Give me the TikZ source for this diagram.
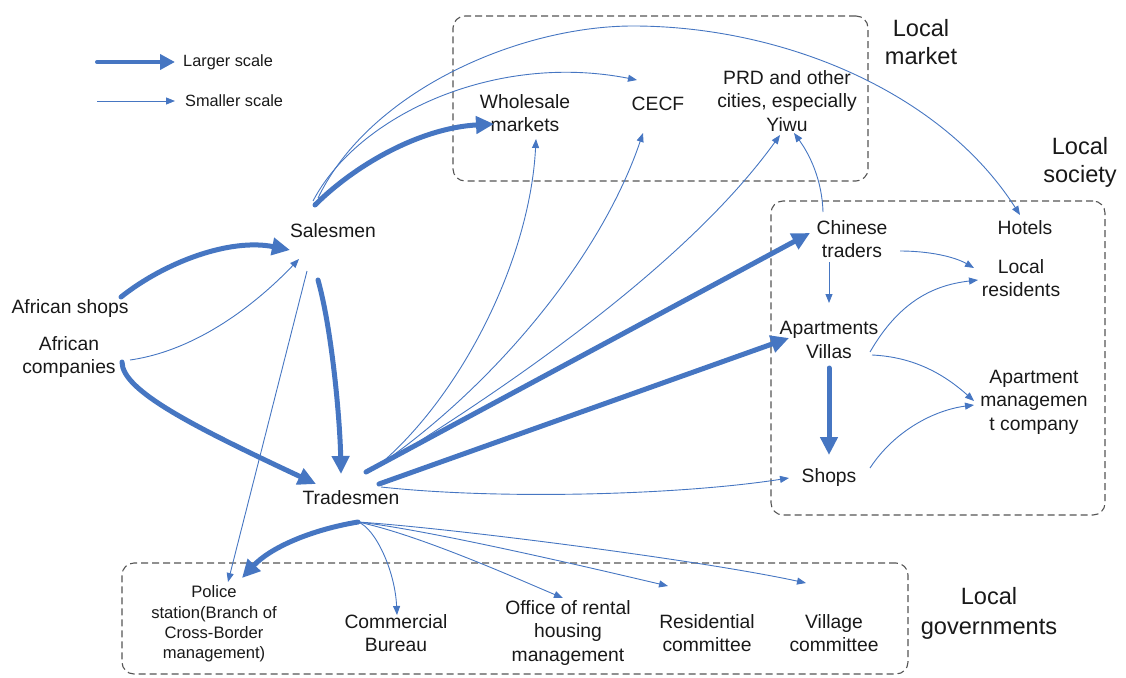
\documentclass[tikz,border=0pt]{standalone}
\usepackage{fontspec}
\setmainfont{Liberation Sans}
\usetikzlibrary{arrows.meta,calc}
\definecolor{blu}{RGB}{70,118,194}
\definecolor{boxgray}{RGB}{85,85,85}
\begin{document}
\begin{tikzpicture}[x=1pt,y=-1pt,
  lbl/.style={font=\fontsize{19.3}{23.5}\selectfont, align=center, inner sep=0pt, text=black!90},
  smalllbl/.style={font=\fontsize{16.6}{20.4}\selectfont, align=center, inner sep=0pt, text=black!90},
  grplbl/.style={font=\fontsize{23.6}{28}\selectfont, align=center, inner sep=0pt, text=black!90},
  leglbl/.style={font=\fontsize{16.3}{18}\selectfont, anchor=west, inner sep=0pt, text=black!90},
  bigarrow/.style={draw=blu, line width=5pt, line cap=round, -{Triangle[length=18pt,width=17pt]}},
  legbig/.style={draw=blu, line width=4pt, line cap=round, -{Triangle[length=15pt,width=15pt]}},
  thinarrow/.style={draw=blu, line width=0.9pt, -{Triangle[length=9pt,width=7pt]}},
  groupbox/.style={draw=boxgray, dash pattern=on 7pt off 4pt, line width=1.1pt, rounded corners=12pt, inner sep=0pt}
]
\useasboundingbox (0,0) rectangle (1126,677);

% group boxes
\node[groupbox, minimum width=415pt, minimum height=165pt] (gmarket) at (660.5,98.5) {};
\node[groupbox, minimum width=334pt, minimum height=314pt] (gsociety) at (938,358) {};
\node[groupbox, minimum width=786pt, minimum height=111pt] (ggov) at (515,618.5) {};
\node[grplbl] (tmarket) at (921,42) {Local\\market};
\node[grplbl] (tsociety) at (1080,162) {Local\\society};
\node[grplbl, font=\fontsize{23.6}{30}\selectfont] (tgov) at (989,613) {Local\\governments};

% legend
\node[leglbl] (leg1) at (183,62) {Larger scale};
\node[leglbl] (leg2) at (185,101) {Smaller scale};
\coordinate (lg1) at (97,62);
\coordinate (lg2) at (97,101);
\draw[legbig] (lg1) -- ($(leg1.west)+(-8,0)$);
\draw[thinarrow] (lg2) -- ($(leg2.west)+(-10,0)$);

% nodes
\node[lbl] (sales) at (333,231) {Salesmen};
\node[lbl] (ashops) at (70,309) {African shops};
\node[lbl] (acomp) at (69,357) {African\\companies};
\node[lbl] (trade) at (351,498) {Tradesmen};
\node[lbl] (whole) at (525,113) {Wholesale\\markets};
\node[lbl] (cecf) at (658,104) {CECF};
\node[lbl] (prd) at (787,101) {PRD and other\\cities, especially\\Yiwu};
\node[lbl] (chinese) at (852,239) {Chinese\\traders};
\node[lbl] (hotels) at (1025,228) {Hotels};
\node[lbl] (resid) at (1021,278) {Local\\residents};
\node[lbl] (apts) at (829,340) {Apartments\\Villas};
\node[lbl] (amc) at (1034,402) {Apartment\\managemen\\t company};
\node[lbl] (shops) at (829,478) {Shops};
\node[smalllbl] (police) at (214,624) {Police\\station(Branch of\\Cross-Border\\management)};
\node[lbl] (comm) at (396,633) {Commercial\\Bureau};
\node[lbl] (office) at (568,633) {Office of rental\\housing\\management};
\node[lbl] (rescom) at (707,633) {Residential\\committee};
\node[lbl] (village) at (834,633) {Village\\committee};

% thick connectors
\draw[bigarrow] ($(ashops)+(51,-12)$) .. controls (165,262) and (230,238) .. ($(sales)+(-43,19)$);
\draw[bigarrow] ($(acomp)+(53,5)$) .. controls (122,390) and (190,425) .. ($(trade)+(-35,-14)$);
\draw[bigarrow] ($(sales)+(-15,49)$) .. controls (332,330) and (340,420) .. ($(trade)+(-10,-24)$);
\draw[bigarrow] ($(sales)+(-18,-26)$) .. controls (355,165) and (420,128) .. ($(whole)+(-31,11)$);
\draw[bigarrow] ($(trade)+(15,-26)$) -- ($(chinese)+(-42,-6)$);
\draw[bigarrow] ($(trade)+(28,-14)$) -- ($(apts)+(-40,-2)$);
\draw[bigarrow] ($(apts)+(0,28)$) -- ($(shops)+(0,-23)$);
\draw[bigarrow] ($(trade)+(7,24)$) .. controls (310,530) and (270,548) .. ($(police)+(28,-46)$);

% thin connectors
\draw[thinarrow] ($(acomp)+(61,3)$) .. controls (200,350) and (260,300) .. ($(sales)+(-34,28)$);
\draw[thinarrow] ($(sales)+(-26,40)$) -- ($(police)+(14,-42)$);
\draw[thinarrow] ($(sales)+(-20,-30)$) .. controls (358,115) and (495,52) .. ($(cecf)+(-21,-24)$);
\draw[thinarrow] ($(sales)+(-15,-33)$) .. controls (370,90) and (520,26) .. (633,26)
                 .. controls (780,26) and (940,90) .. ($(hotels)+(-5,-13)$);
\draw[thinarrow] ($(trade)+(22,-28)$) .. controls (460,400) and (530,260) .. ($(whole)+(11,26)$);
\draw[thinarrow] ($(trade)+(24,-30)$) .. controls (490,390) and (600,260) .. ($(cecf)+(-15,29)$);
\draw[thinarrow] ($(trade)+(27,-31)$) .. controls (520,380) and (690,260) .. ($(prd)+(-7,34)$);
\draw[thinarrow] ($(chinese)+(-29,-27)$) .. controls (822,180) and (810,155) .. ($(prd)+(7,32)$);
\draw[thinarrow] ($(chinese)+(-23,23)$) -- ($(apts)+(0,-37)$);
\draw[thinarrow] ($(chinese)+(48,12)$) .. controls (930,251) and (955,257) .. ($(resid)+(-47,-10)$);
\draw[thinarrow] ($(apts)+(41,12)$) .. controls (900,300) and (935,285) .. ($(resid)+(-43,2)$);
\draw[thinarrow] ($(apts)+(43,15)$) .. controls (915,357) and (945,375) .. ($(amc)+(-60,-1)$);
\draw[thinarrow] ($(shops)+(41,-10)$) .. controls (895,430) and (935,410) .. ($(amc)+(-60,3)$);
\draw[thinarrow] ($(trade)+(30,-11)$) .. controls (500,500) and (680,495) .. ($(shops)+(-40,0)$);
\draw[thinarrow] ($(trade)+(7,24)$) .. controls (375,528) and (395,570) .. ($(comm)+(1,-18)$);
\draw[thinarrow] ($(trade)+(7,24)$) .. controls (420,535) and (520,580) .. ($(office)+(-5,-35)$);
\draw[thinarrow] ($(trade)+(7,24)$) .. controls (430,530) and (600,570) .. ($(rescom)+(-39,-47)$);
\draw[thinarrow] ($(trade)+(7,24)$) .. controls (450,528) and (700,560) .. ($(village)+(-28,-50)$);
\end{tikzpicture}
\end{document}
